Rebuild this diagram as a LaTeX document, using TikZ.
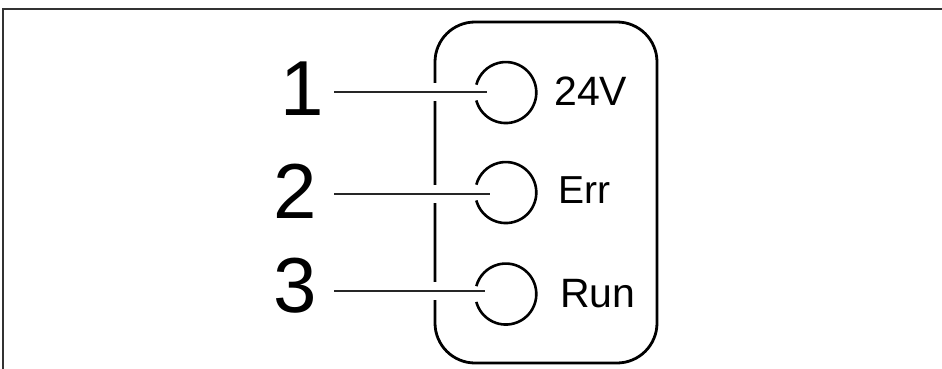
\documentclass[tikz,border=0pt]{standalone}
\usepackage{fontspec}
\setmainfont{Liberation Sans}
\begin{document}
\begin{tikzpicture}[x=1pt,y=-1pt,
  frame/.style={line width=1.4pt, draw=black!80},
  housing/.style={line width=2.8pt, rounded corners=40pt},
  ledring/.style={line width=2.6pt},
  leader/.style={line width=1.4pt, draw=black!85},
  gapmask/.style={draw=white, line width=6pt},
  num/.style={font=\fontsize{78}{78}\selectfont, anchor=base, inner sep=0pt},
  tag/.style={font=\fontsize{41}{41}\selectfont, anchor=base west, inner sep=0pt},
  led/.style={circle, minimum size=61pt, inner sep=0pt},
]
\useasboundingbox (0,0) rectangle (942,369);
% page frame (top and left edges only)
\draw[frame] (3,369) -- (3,9) -- (942,9);

% housing with rounded corners
\draw[housing] (435,22) rectangle (657,363);

% LED positions
\node[led] (led1) at (506,92.5) {};
\node[led] (led2) at (506,192.5) {};
\node[led] (led3) at (506,294) {};

% LED rings, open on the left where the leader enters
\foreach \k in {1,2,3}
  \draw[ledring] (led\k.195) arc[start angle=195, end angle=525, radius=30.5pt];

% position numbers
\node[num] (n1) at (302,115) {1};
\node[num] (n2) at (295,218) {2};
\node[num] (n3) at (295,312) {3};

% LED labels
\node[tag] (l1) at (554,105) {24V};
\node[tag, font=\fontsize{39}{39}\selectfont] (l2) at (558,203) {Err};
\node[tag] (l3) at (560,307) {Run};

% leader end points
\coordinate (s1) at (334,92);
\coordinate (s2) at (334,194);
\coordinate (s3) at (334,291);
\coordinate (t1) at (487,92);
\coordinate (t2) at (490,194);
\coordinate (t3) at (485,291);

% leaders, with a small break in the housing outline
\foreach \k in {1,2,3} {
  \draw[gapmask] ([yshift=-9pt]s\k -| 435,0) -- ([yshift=9pt]s\k -| 435,0);
  \draw[leader] (s\k) -- (t\k);
}
\end{tikzpicture}
\end{document}
